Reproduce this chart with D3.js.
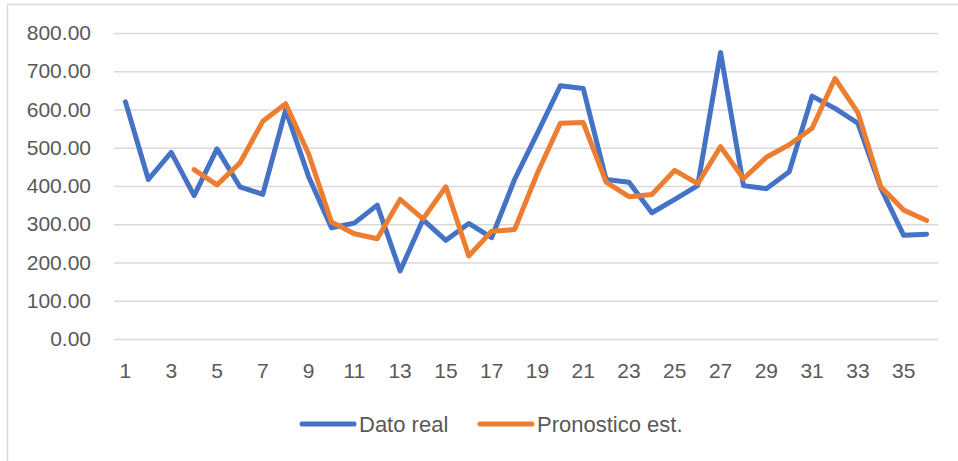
<!DOCTYPE html>
<html>
<head>
<meta charset="utf-8">
<script src="https://cdn.jsdelivr.net/npm/d3@7"></script>
<style>
  body { margin: 0; background: #fff; }
  svg { display: block; font-family: "Liberation Sans", Arial, sans-serif; }
</style>
</head>
<body>
<svg id="chart"></svg>
<script>
// period numbers 1..36
var periods = d3.range(1, 37);

var datoReal = [620, 417, 488, 375, 497, 398, 378, 599, 425, 291,
                303, 350, 178, 312, 258, 302, 265, 417, 538, 662,
                655, 417, 410, 330, 365, 401, 749, 401, 393, 437,
                635, 603, 564, 395, 271, 274];

var pronostico = [null, null, null, 443, 403, 460, 569, 615, 484, 306,
                  275, 262, 365, 314, 398, 217, 282, 286, 434, 564,
                  566, 410, 372, 378, 441, 406, 503, 419, 475, 508,
                  551, 681, 592, 398, 337, 310];

var yTicks = [0, 100, 200, 300, 400, 500, 600, 700, 800];

var series = [
  { name: "Dato real", values: datoReal, color: "#4472C4" },
  { name: "Pronostico est.", values: pronostico, color: "#ED7D31" }
];

var width = 958, height = 461;
var margin = { top: 33, right: 20, bottom: 121, left: 114 };

var svg = d3.select("#chart")
  .attr("width", width)
  .attr("height", height);

// chart area frame
svg.append("rect")
  .attr("x", 7.5).attr("y", 4.5)
  .attr("width", 1000).attr("height", 1000)
  .attr("fill", "none")
  .attr("stroke", "#D9D9D9")
  .attr("stroke-width", 1.5);

var x = d3.scaleBand()
  .domain(periods)
  .range([margin.left, width - margin.right]);

var y = d3.scaleLinear()
  .domain([0, 800])
  .range([height - margin.bottom - 1, margin.top]);

// gridlines + y labels
svg.append("g")
  .attr("transform", `translate(${margin.left},0)`)
  .call(d3.axisLeft(y)
    .tickValues(yTicks)
    .tickSize(-(width - margin.right - margin.left))
    .tickPadding(23)
    .tickFormat(d3.format(".2f")))
  .call(g => g.select(".domain").remove())
  .call(g => g.selectAll(".tick line")
    .attr("stroke", "#D9D9D9")
    .attr("stroke-width", 1.5))
  .call(g => g.selectAll(".tick text")
    .attr("fill", "#595959")
    .attr("font-size", 21));

// x labels, every other period
svg.append("g")
  .attr("transform", `translate(0,${y(0)})`)
  .call(d3.axisBottom(x)
    .tickValues(periods.filter(d => d % 2 === 1))
    .tickSize(0)
    .tickPadding(24))
  .call(g => g.select(".domain").remove())
  .call(g => g.selectAll(".tick text")
    .attr("fill", "#595959")
    .attr("font-size", 21));

var line = d3.line()
  .defined(d => d.v != null)
  .x(d => x(d.p) + x.bandwidth() / 2)
  .y(d => y(d.v));

series.forEach(function(s) {
  svg.append("path")
    .datum(periods.map((p, i) => ({ p: p, v: s.values[i] })))
    .attr("fill", "none")
    .attr("stroke", s.color)
    .attr("stroke-width", 5)
    .attr("stroke-linejoin", "round")
    .attr("stroke-linecap", "round")
    .attr("d", line);
});

// legend
var legend = svg.append("g")
  .attr("transform", "translate(300,424)");

var legendX = [0, 178];
series.forEach(function(s, i) {
  var g = legend.append("g").attr("transform", `translate(${legendX[i]},0)`);
  g.append("line")
    .attr("x1", 2).attr("x2", 54)
    .attr("stroke", s.color)
    .attr("stroke-width", 5)
    .attr("stroke-linecap", "round");
  g.append("text")
    .attr("x", 59)
    .attr("dy", "0.35em")
    .attr("fill", "#595959")
    .attr("font-size", 22)
    .text(s.name);
});
</script>
</body>
</html>
